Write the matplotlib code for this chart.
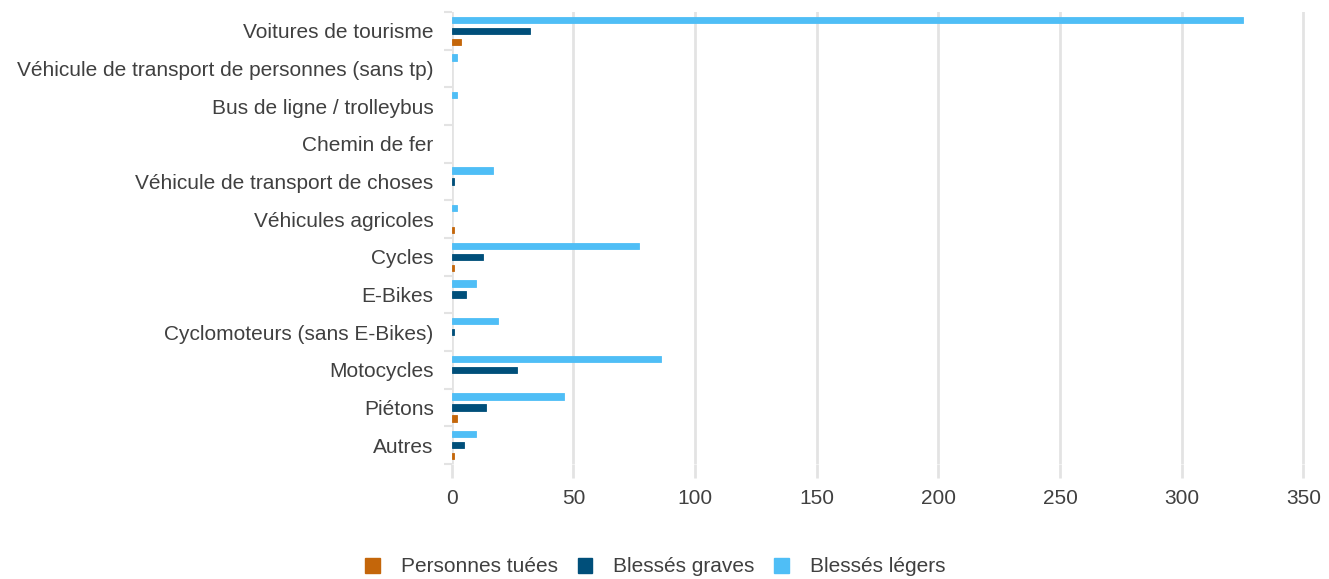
import numpy as np
import matplotlib
matplotlib.use("Agg")
import matplotlib.pyplot as plt
from matplotlib.patches import Patch

plt.rcParams['font.family'] = ['Liberation Sans', 'DejaVu Sans']

categories = [
    "Voitures de tourisme",
    "Véhicule de transport de personnes (sans tp)",
    "Bus de ligne / trolleybus",
    "Chemin de fer",
    "Véhicule de transport de choses",
    "Véhicules agricoles",
    "Cycles",
    "E-Bikes",
    "Cyclomoteurs (sans E-Bikes)",
    "Motocycles",
    "Piétons",
    "Autres",
]
tuees = [4, 0, 0, 0, 0, 1, 1, 0, 0, 0, 2, 1]
graves = [32, 0, 0, 0, 1, 0, 13, 6, 1, 27, 14, 5]
legers = [325, 2, 2, 0, 17, 2, 77, 10, 19, 86, 46, 10]

col_tuees = "#C4660A"
col_graves = "#004F7A"
col_legers = "#4FBEF6"
text_col = "#404040"
grid_col = "#E3E3E3"

fig = plt.figure(figsize=(13.29, 5.79), dpi=100)
xmax = 353
ax = fig.add_axes([451.7 / 1329, 1 - 464 / 579, 851.7 * xmax / 350 / 1329, 452 / 579])

y = np.arange(len(categories))
off = 0.29
h = 0.17


def bars(pos, vals, col):
    # thin edge so that the tiny values stay visible, none for zeros
    lw = [0.6 if v else 0 for v in vals]
    ax.barh(pos, vals, height=h, color=col, edgecolor=col, linewidth=lw, zorder=3)


bars(y - off, legers, col_legers)
bars(y, graves, col_graves)
bars(y + off, tuees, col_tuees)

ax.set_xlim(0, xmax)
ax.set_ylim(len(categories) - 0.5, -0.5)
ax.set_xticks(np.arange(0, 351, 50))
ax.set_yticks(y)
ax.set_yticklabels(categories)
ax.set_yticks(np.arange(-0.5, len(categories), 1), minor=True)

ax.grid(axis="x", color=grid_col, linewidth=2, zorder=0)
for s in ax.spines.values():
    s.set_visible(False)

ax.tick_params(axis="y", which="major", length=0, pad=13, labelsize=15, labelcolor=text_col)
ax.tick_params(axis="y", which="minor", length=6, width=1.5, color=grid_col)
ax.tick_params(axis="x", which="major", length=10, width=2, color=grid_col,
               pad=8, labelsize=15, labelcolor=text_col)

handles = [Patch(color=col_tuees), Patch(color=col_graves), Patch(color=col_legers)]
labels = ["Personnes tuées", "Blessés graves", "Blessés légers"]
fig.legend(handles, labels, loc="center", bbox_to_anchor=(0.493, 1 - 567 / 579), ncol=3,
           frameon=False, fontsize=15, labelcolor=text_col, handlelength=0.7,
           handleheight=0.7, handletextpad=1.0, columnspacing=0.95)

fig.savefig("out.png", dpi=100)
